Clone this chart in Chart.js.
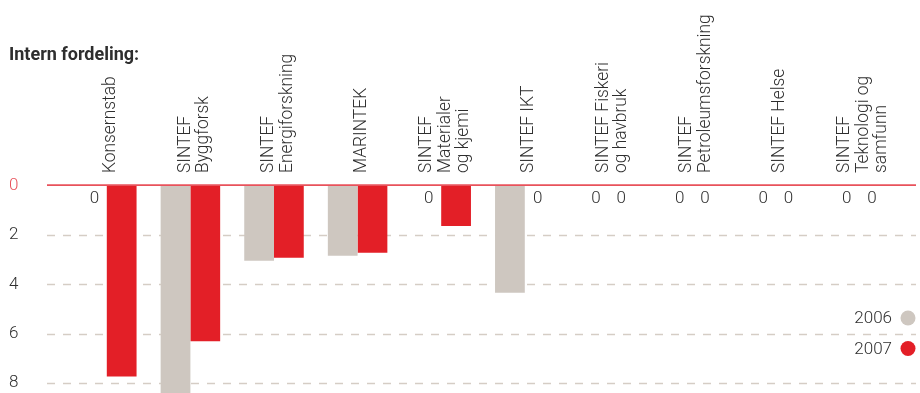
<!DOCTYPE html>
<html>
<head>
<meta charset="utf-8">
<script src="https://cdn.jsdelivr.net/npm/chart.js@4.4.1/dist/chart.umd.min.js"></script>
<style>
  html, body { margin: 0; padding: 0; background: #ffffff; }
  #wrap { width: 920px; height: 393px; position: relative; }
</style>
</head>
<body>
<div id="wrap"><canvas id="chart" width="920" height="393"></canvas></div>
<script>
// Units, each label split into its printed lines
const categories = [
  ['Konsernstab'],
  ['SINTEF', 'Byggforsk'],
  ['SINTEF', 'Energiforskning'],
  ['MARINTEK'],
  ['SINTEF', 'Materialer', 'og kjemi'],
  ['SINTEF IKT'],
  ['SINTEF Fiskeri', 'og havbruk'],
  ['SINTEF', 'Petroleumsforskning'],
  ['SINTEF Helse'],
  ['SINTEF', 'Teknologi og', 'samfunn']
];
const seriesNames = ['2006', '2007'];
const values2006 = [0, 8.5, 3.04, 2.84, 0, 4.34, 0, 0, 0, 0];
const values2007 = [7.75, 6.32, 2.92, 2.72, 1.63, 0, 0, 0, 0, 0];
const yTicks = [0, 2, 4, 6, 8];

const GREY = '#cec7c0';
const RED = '#e31f27';
const ZERO_LINE = '#e8525b';
const GRID = '#d5cdc5';
const TEXT = '#2e2e2e';
const FONT = 'Roboto, "Liberation Sans", sans-serif';

Chart.defaults.font.family = FONT;

// Dashed grid lines spanning the full width, and the red zero line
const gridPlugin = {
  id: 'fullGrid',
  beforeDatasetsDraw(chart) {
    const { ctx } = chart;
    const y = chart.scales.y;
    const x0 = 47, x1 = 916;
    ctx.save();
    ctx.lineWidth = 1.5;
    ctx.strokeStyle = GRID;
    ctx.setLineDash([8, 8]);
    yTicks.forEach(v => {
      if (v === 0) return;
      const py = Math.round(y.getPixelForValue(v)) + 0.5;
      ctx.beginPath();
      ctx.moveTo(x0, py);
      ctx.lineTo(x1, py);
      ctx.stroke();
    });
    ctx.restore();
  },
  afterDatasetsDraw(chart) {
    const { ctx } = chart;
    const y = chart.scales.y;
    const py = y.getPixelForValue(0) - 0.9;
    ctx.save();
    ctx.lineWidth = 1.8;
    ctx.strokeStyle = ZERO_LINE;
    ctx.beginPath();
    ctx.moveTo(47, py);
    ctx.lineTo(916, py);
    ctx.stroke();
    ctx.restore();
  }
};

// "0" printed where a bar has no value
const zeroLabelPlugin = {
  id: 'zeroLabels',
  afterDatasetsDraw(chart) {
    const { ctx } = chart;
    const y0 = chart.scales.y.getPixelForValue(0);
    ctx.save();
    ctx.font = '300 17px ' + FONT;
    ctx.fillStyle = TEXT;
    ctx.textAlign = 'center';
    ctx.textBaseline = 'alphabetic';
    chart.data.datasets.forEach((ds, di) => {
      const meta = chart.getDatasetMeta(di);
      ds.data.forEach((v, i) => {
        if (v !== 0) return;
        const el = meta.data[i];
        const shift = di === 0 ? 2.5 : -2;
        ctx.fillText('0', el.x + shift, y0 + 17);
      });
    });
    ctx.restore();
  }
};

// Vertical unit names above each group
const categoryLabelPlugin = {
  id: 'categoryLabels',
  afterDraw(chart) {
    const { ctx } = chart;
    const xs = chart.scales.x;
    const pitch = 18.5;
    ctx.save();
    ctx.font = '300 18.5px ' + FONT;
    ctx.fillStyle = TEXT;
    ctx.textAlign = 'left';
    ctx.textBaseline = 'alphabetic';
    chart.data.labels.forEach((lines, i) => {
      const cx = xs.getPixelForValue(i);
      lines.forEach((t, j) => {
        const bx = cx + 8.5 + (j - (lines.length - 1) / 2) * pitch;
        ctx.save();
        ctx.translate(bx, 173);
        ctx.rotate(-Math.PI / 2);
        ctx.scale(0.94, 1);
        ctx.fillText(t, 0, 0);
        ctx.restore();
      });
    });
    ctx.restore();
  }
};

// Series key with round markers on the right
const keyPlugin = {
  id: 'seriesKey',
  afterDraw(chart) {
    const { ctx } = chart;
    const right = chart.chartArea.right;
    const rows = [318, 348.5];
    ctx.save();
    ctx.font = '300 17px ' + FONT;
    ctx.textAlign = 'right';
    ctx.textBaseline = 'middle';
    chart.data.datasets.forEach((ds, i) => {
      const cy = rows[i];
      ctx.fillStyle = TEXT;
      ctx.fillText(ds.label, right - 9, cy + 1);
      ctx.fillStyle = ds.backgroundColor;
      ctx.beginPath();
      ctx.arc(right + 7, cy, 7.5, 0, Math.PI * 2);
      ctx.fill();
    });
    ctx.restore();
  }
};

new Chart(document.getElementById('chart'), {
  type: 'bar',
  data: {
    labels: categories,
    datasets: [
      { label: seriesNames[0], data: values2006, backgroundColor: GREY, borderWidth: 0 },
      { label: seriesNames[1], data: values2007, backgroundColor: RED, borderWidth: 0 }
    ]
  },
  options: {
    responsive: false,
    animation: false,
    events: [],
    layout: { padding: { left: 9, right: 19, top: 0, bottom: 0 } },
    datasets: { bar: { barPercentage: 1, categoryPercentage: 0.712 } },
    plugins: {
      legend: { display: false },
      tooltip: { enabled: false },
      title: {
        display: true,
        text: 'Intern fordeling:',
        align: 'start',
        color: TEXT,
        font: { family: FONT, weight: 'bold', size: 18, lineHeight: 1.2 },
        padding: { top: 45, bottom: 119.4 }
      }
    },
    scales: {
      x: { display: false },
      y: {
        reverse: true,
        min: 0,
        max: 8.42,
        grid: { display: false },
        border: { display: false },
        ticks: {
          padding: 0,
          crossAlign: 'far',
          font: { family: FONT, size: 17, weight: '300' },
          color: ctx => (ctx.tick && ctx.tick.value === 0 ? ZERO_LINE : TEXT)
        },
        afterBuildTicks(scale) {
          scale.ticks = yTicks.map(v => ({ value: v }));
        },
        afterFit(scale) {
          scale.width = 56;
          scale.paddingTop = 0;
          scale.paddingBottom = 0;
        }
      }
    }
  },
  plugins: [gridPlugin, zeroLabelPlugin, categoryLabelPlugin, keyPlugin]
});
</script>
</body>
</html>
